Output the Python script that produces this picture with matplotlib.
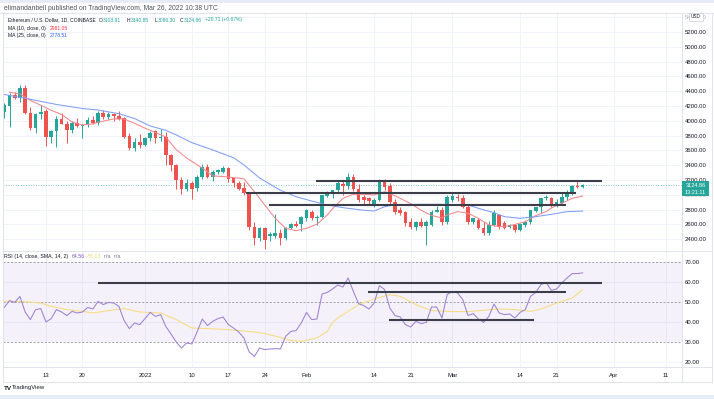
import matplotlib
matplotlib.use('Agg')
import matplotlib.pyplot as plt
from matplotlib.lines import Line2D
from matplotlib.patches import Rectangle

plt.rcParams['font.family'] = ['Liberation Sans', 'DejaVu Sans']

# ---------------- data (day index 0 = 2021-12-05 ... 111 = 2022-03-26) ----------------
opens = [4118, 4200, 4348, 4304, 4443, 4105, 3902, 4091, 4132, 3780,
         3862, 4024, 3956, 3875, 3970, 3929, 3943, 4010, 3970, 4105,
         4050, 4091, 4064, 4037, 3794, 3632, 3713, 3672, 3767, 3862,
         3767, 3780, 3537, 3402, 3199, 3077, 3158, 3091, 3240, 3375,
         3240, 3307, 3307, 3361, 3226, 3158, 3091, 3010, 2564, 2415,
         2550, 2442, 2442, 2483, 2415, 2550, 2604, 2604, 2685, 2766,
         2685, 2699, 2983, 3023, 3064, 3145, 3118, 3240, 3077, 2969,
         2956, 2875, 2929, 3199, 3118, 2902, 2793, 2766, 2635, 2568,
         2627, 2582, 2591, 2771, 2793, 2627, 2929, 2973, 2951, 2838,
         2627, 2658, 2546, 2478, 2591, 2726, 2613, 2568, 2591, 2523,
         2591, 2627, 2780, 2838, 2951, 2960, 2861, 2884, 2973, 3032,
         3122, 3103.91]
highs = [4240, 4375, 4390, 4483, 4483, 4190, 4110, 4213, 4160, 3880,
         4070, 4105, 3990, 3990, 4040, 3960, 4050, 4060, 4132, 4150,
         4120, 4110, 4125, 4045, 3830, 3760, 3815, 3780, 3860, 3880,
         3889, 3850, 3545, 3420, 3240, 3210, 3180, 3265, 3420, 3420,
         3340, 3350, 3390, 3370, 3240, 3190, 3170, 3030, 2630, 2560,
         2560, 2500, 2740, 2530, 2560, 2620, 2640, 2710, 2810, 2800,
         2720, 3000, 3050, 3070, 3190, 3180, 3294, 3280, 3140, 3000,
         2970, 2960, 3210, 3210, 3160, 2940, 2830, 2780, 2680, 2650,
         2680, 2660, 2790, 2850, 2840, 2990, 3041, 3010, 2990, 2860,
         2690, 2680, 2630, 2640, 2790, 2740, 2650, 2600, 2610, 2620,
         2660, 2800, 2840, 2960, 2990, 2970, 2940, 3040, 3060, 3130,
         3199, 3140.85]
lows = [4037, 3916, 4290, 4260, 4090, 3870, 3835, 4030, 3659, 3700,
        3645, 3950, 3700, 3830, 3910, 3767, 3920, 3950, 3940, 4030,
        4020, 3990, 4010, 3760, 3610, 3590, 3625, 3660, 3720, 3700,
        3720, 3400, 3320, 3080, 3010, 3050, 2942, 3050, 3210, 3230,
        3190, 3280, 3290, 3170, 3110, 3060, 2990, 2520, 2320, 2380,
        2265, 2380, 2420, 2320, 2390, 2530, 2560, 2510, 2650, 2660,
        2590, 2690, 2970, 2960, 3040, 2990, 3080, 3050, 2900, 2860,
        2860, 2840, 2920, 3060, 2880, 2740, 2730, 2580, 2540, 2520,
        2570, 2320, 2580, 2760, 2590, 2610, 2900, 2920, 2820, 2600,
        2600, 2530, 2450, 2460, 2580, 2540, 2530, 2550, 2500, 2510,
        2560, 2610, 2770, 2750, 2930, 2840, 2830, 2880, 2930, 2990,
        3090, 3086.30]
closes = [4213, 4348, 4304, 4443, 4105, 3902, 4091, 4118, 3780, 3862,
          4024, 3956, 3875, 3970, 3929, 3943, 4010, 3970, 4105, 4050,
          4091, 4064, 4024, 3780, 3632, 3713, 3672, 3767, 3835, 3767,
          3780, 3537, 3402, 3199, 3077, 3158, 3077, 3240, 3375, 3240,
          3307, 3334, 3361, 3213, 3158, 3077, 3023, 2564, 2415, 2550,
          2388, 2469, 2483, 2415, 2550, 2604, 2577, 2699, 2793, 2685,
          2699, 2996, 3023, 3064, 3158, 3118, 3240, 3077, 2929, 2929,
          2915, 2929, 3199, 3104, 2902, 2766, 2753, 2618, 2568, 2627,
          2582, 2627, 2771, 2793, 2627, 2973, 2987, 2951, 2838, 2635,
          2681, 2546, 2478, 2591, 2749, 2568, 2546, 2591, 2523, 2600,
          2635, 2793, 2838, 2951, 2973, 2861, 2906, 2973, 3041, 3122,
          3108, 3124.86]

ma10_days = [1, 3, 5, 7, 9, 11, 13, 15, 17, 18, 21, 23, 25, 27, 29, 31, 33, 35, 38, 40,
             43, 46, 48, 50, 52, 54, 56, 58, 60, 62, 63, 65, 67, 69, 71, 73, 75, 76, 78, 80,
             82, 84, 85, 87, 89, 91, 93, 95, 97, 100, 102, 104, 105, 107, 109, 111]
ma10 = [4385, 4362, 4275, 4210, 4140, 4085, 3983, 3943, 3956, 3980, 4024, 4024, 3965, 3900, 3840, 3780, 3610, 3496, 3360, 3255,
        3240, 3215, 3041, 2861, 2681, 2546, 2514, 2546, 2600, 2726, 2810, 2951, 3006, 3006, 2996, 3041, 2985, 2950, 2880, 2790,
        2720, 2685, 2726, 2771, 2749, 2681, 2591, 2568, 2580, 2635, 2717, 2771, 2820, 2884, 2951, 2981.05]
ma25_days = [0, 5, 10, 15, 18, 22, 25, 28, 31, 33, 36, 40, 44, 46, 49, 53, 56, 59, 62, 65,
             69, 71, 73, 75, 78, 81, 84, 89, 91, 94, 96, 99, 102, 105, 108, 111]
ma25 = [4355, 4290, 4220, 4165, 4145, 4095, 4030, 3929, 3870, 3808, 3704, 3605, 3500, 3402, 3226, 3060, 2973, 2915, 2861, 2825,
        2790, 2780, 2838, 2865, 2870, 2870, 2870, 2861, 2816, 2757, 2703, 2681, 2703, 2735, 2771, 2778.51]

rsi = [47.3, 50.7, 49.8, 52.8, 45.0, 41.2, 46.2, 46.7, 40.0, 41.7,
       46.2, 45.0, 43.2, 45.3, 44.5, 45.0, 47.3, 46.5, 50.3, 48.7,
       49.8, 49.5, 47.8, 40.7, 36.7, 39.5, 38.7, 41.7, 44.8, 42.8,
       43.7, 37.8, 34.0, 30.0, 27.0, 29.5, 29.0, 35.0, 41.5, 38.2,
       40.3, 41.7, 42.5, 38.7, 37.0, 35.0, 32.0, 25.0, 22.8, 27.0,
       26.2, 26.5, 26.7, 26.5, 32.8, 35.3, 35.7, 39.5, 44.8, 41.2,
       41.5, 54.0, 54.8, 56.5, 58.5, 57.5, 62.0, 55.3, 49.2, 48.2,
       46.5, 49.5, 58.2, 56.2, 47.0, 43.2, 42.5, 38.7, 37.5, 40.3,
       39.2, 39.8, 47.5, 47.5, 42.0, 53.7, 55.3, 54.5, 51.2, 43.3,
       44.2, 41.5, 39.8, 42.8, 49.0, 44.5, 43.7, 44.0, 42.0, 44.8,
       46.2, 52.8, 54.8, 58.7, 59.8, 55.8, 56.5, 59.5, 62.0, 64.2,
       64.2, 64.56]
rsi_sma_days = [0, 3, 7, 9, 12, 15, 17, 20, 23, 26, 30, 33, 36, 39, 43, 45, 48, 50, 53, 55,
                57, 60, 62, 63, 64, 68, 71, 74, 76, 79, 82, 86, 89, 95, 98, 101, 103, 106, 109, 111]
rsi_sma = [50.3, 50.3, 49.5, 47.8, 46.2, 45.3, 44.5, 45.7, 46.7, 45.0, 44.5, 41.2, 37.0, 36.7, 36.2, 35.7, 35.0, 34.2, 32.3, 30.8,
           30.3, 32.0, 35.3, 39.8, 42.0, 48.7, 51.5, 53.7, 52.8, 48.7, 45.7, 45.2, 45.2, 46.5, 46.2, 45.3, 46.5, 49.5, 52.0, 56.13]

# drawn horizontal levels
price_levels = [3192, 3019, 2861]
price_level_start = [59.8, 46.4, 50.8]
price_level_end = [114.7, 109.7, 107.8]
rsi_levels = [59.7, 55.2, 41.0]
rsi_level_start = [18.0, 69.9, 73.9]
rsi_level_end = [114.7, 107.8, 101.7]

tick_days = [8, 15, 27, 36, 43, 50, 58, 71, 78, 86, 99, 106, 117, 127]
tick_labels = ['13', '20', '2022', '10', '17', '24', 'Feb', '14', '21', 'Mar', '14', '21', 'Apr', '11']
price_ticks = [2400, 2600, 2800, 3000, 3200, 3400, 3600, 3800, 4000, 4200, 4400, 4600, 4800, 5000, 5200, 5400]
rsi_ticks = [20, 30, 40, 50, 60, 70]
last_price = 3124.86

# ---------------- styling ----------------
W, H = 714, 399
GREEN = '#26a69a'
RED = '#ef5350'
GRID = '#f0f3fa'
BORDER = '#e0e3eb'
TXT = '#131722'
FS = 4.3
LFS = 3.6


def rect(x0, y0, x1, y1):
    return [x0 / W, 1 - y1 / H, (x1 - x0) / W, (y1 - y0) / H]


fig = plt.figure(figsize=(W / 100, H / 100), dpi=100)
fig.patch.set_facecolor('white')

ax = fig.add_axes(rect(3, 12, 682, 251))
axr = fig.add_axes(rect(3, 251, 682, 367), sharex=ax)

for a in (ax, axr):
    a.set_facecolor('white')
    for s in a.spines.values():
        s.set_visible(False)
    for d in tick_days:
        a.axvline(d, color=GRID, lw=0.7, zorder=0)

ax.set_xlim(-0.25, 130.08)
ax.set_ylim(2239, 5470)
axr.set_ylim(17.5, 75.5)

for p in price_ticks:
    ax.axhline(p, color=GRID, lw=0.7, zorder=0)
for r in (20, 40, 60):
    axr.axhline(r, color=GRID, lw=0.7, zorder=0)

# candles
idx = list(range(len(closes)))
cols = [GREEN if c >= o else RED for o, c in zip(opens, closes)]
ax.vlines(idx, lows, highs, colors=cols, lw=0.7, zorder=2)
bodies = [max(abs(c - o), 8) for o, c in zip(opens, closes)]
bottoms = [min(o, c) for o, c in zip(opens, closes)]
ax.bar(idx, bodies, bottom=bottoms, width=0.7, color=cols, lw=0, zorder=3)

# moving averages
ax.plot(ma10_days, ma10, color='#f4868b', lw=0.75, zorder=4)
ax.plot(ma25_days, ma25, color='#7f9ef7', lw=0.75, zorder=4)

# drawn levels
ax.hlines(price_levels, price_level_start, price_level_end, color='#3b3e48', lw=1.5, zorder=6)
# last price line
ax.axhline(last_price, color=GREEN, lw=0.6, ls=(0, (1, 2)), alpha=0.8, zorder=1)

# price axis labels (5400 / 3000 sit behind the USD badge and the price box as in the reference)
ax.yaxis.tick_right()
ax.set_yticks(price_ticks)
ax.set_yticklabels([f'{p:.2f}' for p in price_ticks])
ax.tick_params(axis='y', length=0, pad=2, labelsize=FS, labelcolor=TXT)
ax.tick_params(axis='x', bottom=False, labelbottom=False)
for lbl, p in zip(ax.get_yticklabels(), price_ticks):
    if p in (3000, 5400):
        lbl.set_alpha(0.35)

# RSI pane
axr.axhspan(30, 70, color='#7e57c2', alpha=0.08, lw=0, zorder=0)
for r in (30, 50, 70):
    axr.axhline(r, color='#9598a1', lw=0.6, ls=(0, (2.5, 2)), zorder=1)
axr.plot(idx, rsi, color='#9c82d4', lw=0.75, zorder=4)
axr.plot(rsi_sma_days, rsi_sma, color='#f7dc7e', lw=0.75, zorder=3)
axr.hlines(rsi_levels, rsi_level_start, rsi_level_end, color='#3b3e48', lw=1.5, zorder=6)
axr.yaxis.tick_right()
axr.set_yticks(rsi_ticks)
axr.set_yticklabels([f'{r:.2f}' for r in rsi_ticks])
axr.tick_params(axis='y', length=0, pad=2, labelsize=FS, labelcolor=TXT)
axr.set_xticks(tick_days)
axr.set_xticklabels(tick_labels)
axr.tick_params(axis='x', length=0, pad=4, labelsize=FS, labelcolor=TXT)

# ---------------- frame lines ----------------
def hline_px(y, x0=0, x1=W, color=BORDER, lw=0.7):
    fig.add_artist(Line2D([x0 / W, x1 / W], [1 - y / H, 1 - y / H], color=color, lw=lw))


def vline_px(x, y0, y1, color=BORDER, lw=0.7):
    fig.add_artist(Line2D([x / W, x / W], [1 - y0 / H, 1 - y1 / H], color=color, lw=lw))


fig.add_artist(Rectangle((0, 1 - 2.5 / H), 1, 2.5 / H, transform=fig.transFigure, color='#e6ecf5', lw=0))
fig.add_artist(Rectangle((0, 0), 1, 4 / H, transform=fig.transFigure, color='#e6ecf5', lw=0))
hline_px(12.5, 0, W)
hline_px(251, 3, 712)
hline_px(367, 3, 712)
hline_px(382, 3, 712)
vline_px(3, 12.5, 382)
vline_px(682, 12.5, 382)
vline_px(712, 12.5, 382)

# last price box
fig.add_artist(Rectangle((682 / W, 1 - 196 / H), 27 / W, 15 / H, transform=fig.transFigure,
                         color=GREEN, lw=0, zorder=10))
fig.text(695.5 / W, 1 - 185.3 / H, f'{last_price:.2f}', color='white', fontsize=4.0,
         ha='center', va='center', zorder=11)
fig.text(695.5 / W, 1 - 192 / H, '13:21:11', color='white', fontsize=4.0,
         ha='center', va='center', zorder=11)

# USD badge
fig.add_artist(Rectangle((689 / W, 1 - 20.5 / H), 14 / W, 7 / H, transform=fig.transFigure,
                         facecolor='white', edgecolor='#c9ccd4', lw=0.5, zorder=10))
fig.text(696 / W, 1 - 17 / H, 'USD', color=TXT, fontsize=3.4, ha='center', va='center', zorder=11)

# ---------------- texts ----------------
renderer = fig.canvas.get_renderer()


def run_text(x, y, parts, fs=LFS):
    for s, c, gap in parts:
        t = fig.text(x / W, 1 - y / H, s, color=c, fontsize=fs, ha='left', va='center')
        bb = t.get_window_extent(renderer)
        x += bb.width + gap


run_text(4, 8.5, [('elimandanbell published on TradingView.com, Mar 26, 2022 10:38 UTC', '#50535e', 0)], fs=4.85)
run_text(8, 20, [('Ethereum / U.S. Dollar, 1D, COINBASE', TXT, 2.5), ('O', TXT, 0.4), ('3103.91', GREEN, 6),
                 ('H', TXT, 0.4), ('3140.85', GREEN, 6), ('L', TXT, 0.4), ('3086.30', GREEN, 4), ('C', TXT, 0.4),
                 ('3124.86', GREEN, 3), ('+20.71 (+0.67%)', GREEN, 0)])
run_text(8, 28.5, [('MA (10, close, 0)', TXT, 4), ('2981.05', '#f23645', 0)])
run_text(8, 35.5, [('MA (25, close, 0)', TXT, 4), ('2778.51', '#2962ff', 0)])
run_text(4, 256.5, [('RSI (14, close, SMA, 14, 2)', TXT, 3.5), ('64.56', '#7e57c2', 3), ('56.13', '#f5d76e', 3),
                    ('n/a', '#787b86', 2), ('n/a', '#787b86', 0)], fs=3.8)

# TradingView logo
fig.text(4 / W, 1 - 388 / H, 'TV', color=TXT, fontsize=4.5, fontweight='bold', ha='left', va='center')
fig.text(12 / W, 1 - 388 / H, 'TradingView', color=TXT, fontsize=FS, ha='left', va='center')

fig.savefig('out.png', dpi=100)
